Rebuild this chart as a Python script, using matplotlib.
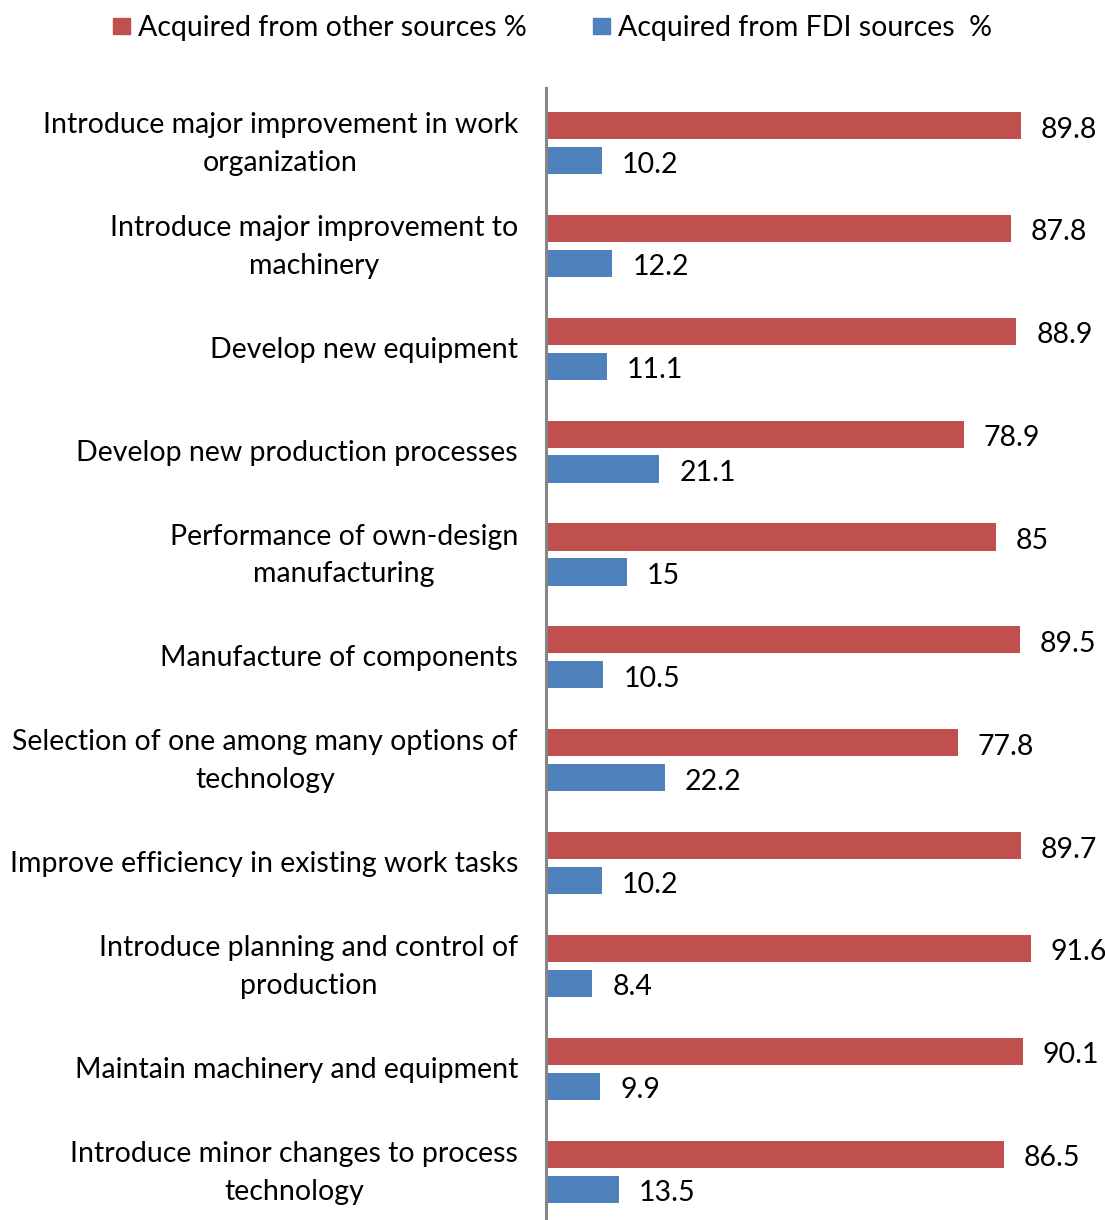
import numpy as np
import matplotlib
matplotlib.use('Agg')
import matplotlib.pyplot as plt
from matplotlib.patches import Rectangle

plt.rcParams['font.family'] = ['Lato', 'DejaVu Sans']

# Data (top to bottom)
categories = ['Introduce major improvement in work\norganization',
              'Introduce major improvement to\nmachinery',
              'Develop new equipment',
              'Develop new production processes',
              'Performance of own-design\nmanufacturing',
              'Manufacture of components',
              'Selection of one among many options of\ntechnology',
              'Improve efficiency in existing work tasks',
              'Introduce planning and control of\nproduction',
              'Maintain machinery and equipment',
              'Introduce minor changes to process\ntechnology']
other_src = [89.8, 87.8, 88.9, 78.9, 85, 89.5, 77.8, 89.7, 91.6, 90.1, 86.5]
fdi_src = [10.2, 12.2, 11.1, 21.1, 15, 10.5, 22.2, 10.2, 8.4, 9.9, 13.5]
series_names = ['Acquired from other sources %', 'Acquired from FDI sources  %']

red = '#C0504D'
blue = '#4F81BD'
fs = 20.5

W, H = 1105, 1220
fig = plt.figure(figsize=(W/100, H/100), dpi=100)
ax = fig.add_axes([546/W, 0, (W-546)/W, (H-88)/H])

y = np.arange(len(categories))
off = 0.17
bh = 0.265
ax.barh(y - off, other_src, height=bh, color=red, edgecolor='none')
ax.barh(y + off, fdi_src, height=bh, color=blue, edgecolor='none')

ax.set_xlim(-0.4, (W-546)/5.267 - 0.4)
ax.set_ylim(10.47, -0.535)

for i in range(len(categories)):
    ax.annotate(f'{other_src[i]:g}', (other_src[i], y[i]-off), xytext=(20, -4),
                textcoords='offset pixels', va='center', ha='left', fontsize=fs)
    ax.annotate(f'{fdi_src[i]:g}', (fdi_src[i], y[i]+off), xytext=(20, -4),
                textcoords='offset pixels', va='center', ha='left', fontsize=fs)
    ax.annotate(categories[i], (0, y[i]), xytext=(-30, -1), textcoords='offset pixels',
                ha='right', va='center', multialignment='center', fontsize=fs,
                linespacing=1.56, annotation_clip=False)

for s in ['top', 'right', 'bottom']:
    ax.spines[s].set_visible(False)
ax.spines['left'].set_color('#868686')
ax.spines['left'].set_linewidth(2.2)
ax.spines['left'].set_position(('data', -0.4))
ax.set_xticks([])
ax.set_yticks([])

# legend drawn manually in figure pixels
def fx(px):
    return px / W
def fy(py):
    return 1 - py / H

for sx, col, name in [(113, red, series_names[0]), (593, blue, series_names[1])]:
    fig.patches.append(Rectangle((fx(sx), fy(34)), 17/W, 16/H, color=col,
                                 transform=fig.transFigure))
    fig.text(fx(sx + 25), fy(28), name, fontsize=fs, va='center', ha='left')

fig.savefig('out.png', dpi=100)
